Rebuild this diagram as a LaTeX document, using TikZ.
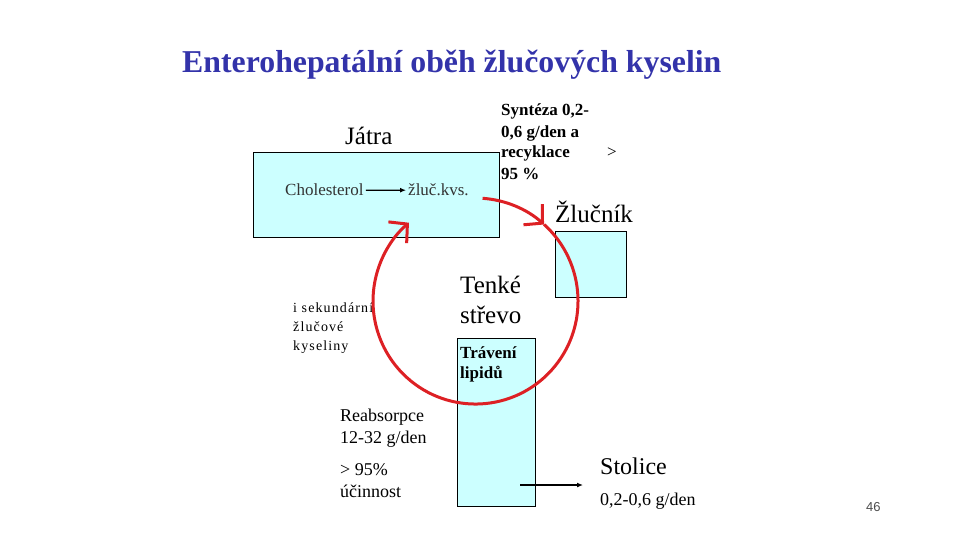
\documentclass[tikz,border=0pt]{standalone}
\usepackage{fontspec}
\setmainfont{Liberation Serif}
\setsansfont{Liberation Sans}
\usepackage{tikz}
\usetikzlibrary{arrows.meta, positioning}
\definecolor{organ}{RGB}{204,255,255}
\definecolor{titleblue}{RGB}{51,51,170}
\definecolor{cyclered}{RGB}{221,32,36}
\tikzstyle{line} = [draw, -{Latex[length=6pt, width=5pt]}, line width=1.2pt]
\tikzstyle{red_cycle} = [draw=cyclered, line width=3pt, -{Straight Barb[length=13pt, width=28pt]}]
\tikzstyle{organ_box} = [rectangle, draw, fill=organ, line width=1pt, inner sep=0pt]
\tikzstyle{organ_name} = [inner sep=0pt, anchor=base west, font=\fontsize{25}{30}\selectfont]
\tikzstyle{note} = [inner sep=0pt, anchor=base west, align=left, font=\fontsize{18}{22}\selectfont]

\begin{document}
\begin{tikzpicture}[x=1pt, y=-1pt]
		\useasboundingbox (0,0) rectangle (960,540);
		
		\node [anchor=base west, inner sep=0pt, text=titleblue, font=\fontsize{31.8}{36}\selectfont\bfseries] (title) at (182,73) {Enterohepatální oběh žlučových kyselin};
		
		\node [organ_box, minimum width=246pt, minimum height=84pt] (liver) at (376,195) {};
		\node [organ_box, minimum width=71pt, minimum height=66pt] (gall) at (590.5,264) {};
		\node [organ_box, minimum width=78pt, minimum height=168pt] (gut) at (496,422) {};
		
		\node [organ_name] (liver_name) at (345,145) {Játra};
		\node [organ_name] (gall_name) at (555,222) {Žlučník};
		\node [organ_name, align=left] (gut_name) at (460,323) {Tenké\\střevo};
		\node [organ_name, font=\fontsize{24}{28}\selectfont] (stool) at (600,474) {Stolice};
		
		\node [anchor=base west, inner sep=0pt, inner xsep=2pt, text=black!80, font=\fontsize{17}{20}\selectfont] (chol) at (283,196) {Cholesterol};
		\node [anchor=base west, inner sep=0pt, inner xsep=2pt, text=black!80, font=\fontsize{17}{20}\selectfont] (acid) at (406,196) {žluč.kvs.};
		\path [line] (chol.east) to (acid.west);
		
		\node [note, font=\fontsize{17}{21}\selectfont\bfseries] (synth) at (501,179) {Syntéza 0,2-\\0,6 g/den a\\\makebox[106pt][l]{recyklace}{\mdseries >}\\95 \%};
		\node [note, font=\fontsize{14}{19}\selectfont\addfontfeature{LetterSpace=8}] (secondary) at (293,350) {i sekundární\\žlučové\\kyseliny};
		\node [note, font=\fontsize{17}{20}\selectfont\bfseries] (digest) at (460,378) {Trávení\\lipidů};
		\node [note] (reabs) at (340,443) {Reabsorpce\\12-32 g/den};
		\node [note] (eff) at (340,497) {> 95\%\\účinnost};
		\node [note] (stool_rate) at (600,505) {0,2-0,6 g/den};
		\node [anchor=base west, inner sep=0pt, text=black!70, font=\sffamily\fontsize{13}{15}\selectfont] (page) at (866,511) {46};
		
		\coordinate (gut_out) at (520,485);
		\coordinate (stool_in) at (583,485);
		\path [line] (gut_out) to (stool_in);
		
		\coordinate (cycle_top) at (482.6,198.3);
		\coordinate (cycle_mid) at (544.1,224.5);
		\draw [red_cycle] (cycle_top) arc [start angle=-86, end angle=-48, x radius=102.5, y radius=103];
		\draw [red_cycle] (cycle_mid) arc [start angle=-48, end angle=229.5, x radius=102.5, y radius=103];
		\end{tikzpicture}
\end{document}
